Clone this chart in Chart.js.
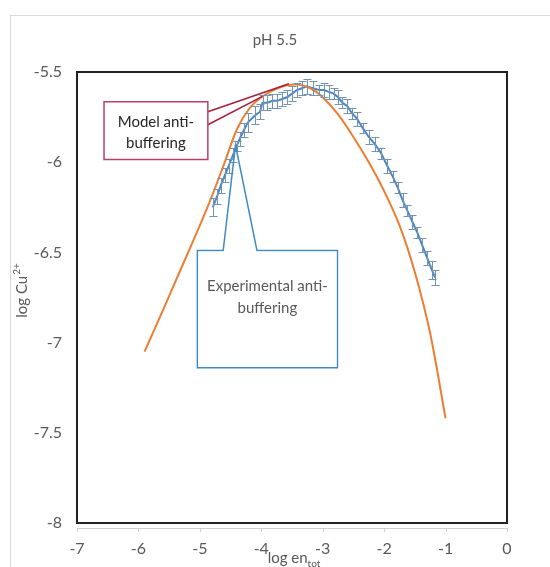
<!DOCTYPE html>
<html>
<head>
<meta charset="utf-8">
<script src="https://cdn.jsdelivr.net/npm/chart.js@4.4.1/dist/chart.umd.min.js"></script>
<style>
  body { margin: 0; background: #fff; }
  #frame { position: absolute; left: 10px; top: 15px; width: 560px; height: 570px; border: 1px solid #d9d9d9; }
  canvas { position: absolute; left: 0; top: 0; }
</style>
</head>
<body>
<div id="frame"></div>
<canvas id="cuChart" width="550" height="567"></canvas>
<script>
// model curve (orange)
const modelX = [-5.9, -5.6, -5.3, -5.0, -4.8, -4.6, -4.4, -4.2, -4.0, -3.8, -3.6, -3.4, -3.2, -3.0, -2.75, -2.5, -2.25, -2.0, -1.75, -1.5, -1.25, -1.0];
const modelY = [-7.05, -6.82, -6.585, -6.35, -6.185, -6.005, -5.82, -5.705, -5.64, -5.60, -5.575, -5.57, -5.59, -5.64, -5.735, -5.86, -6.0, -6.16, -6.35, -6.61, -6.95, -7.42];

// experimental data (blue) with error bars
const expX = [-4.79, -4.72, -4.66, -4.59, -4.53, -4.46, -4.40, -4.35, -4.28, -4.22, -4.10, -4.02, -3.98, -3.90, -3.82, -3.74, -3.66, -3.58, -3.50, -3.42, -3.34, -3.26, -3.16, -3.06, -2.98, -2.90, -2.82, -2.75, -2.68, -2.60, -2.52, -2.44, -2.35, -2.25, -2.15, -2.05, -1.95, -1.86, -1.78, -1.70, -1.62, -1.54, -1.46, -1.38, -1.30, -1.22, -1.17];
const expY = [-6.25, -6.19, -6.13, -6.07, -6.02, -5.96, -5.91, -5.87, -5.82, -5.78, -5.74, -5.72, -5.67, -5.67, -5.66, -5.66, -5.65, -5.64, -5.62, -5.60, -5.59, -5.58, -5.59, -5.60, -5.60, -5.61, -5.62, -5.64, -5.67, -5.69, -5.73, -5.76, -5.81, -5.86, -5.90, -5.95, -6.02, -6.08, -6.14, -6.21, -6.27, -6.33, -6.39, -6.46, -6.53, -6.60, -6.64];
const expErr = [0.05, 0.04, 0.04, 0.04, 0.04, 0.04, 0.03, 0.04, 0.04, 0.05, 0.05, 0.04, 0.04, 0.04, 0.04, 0.04, 0.04, 0.04, 0.04, 0.04, 0.04, 0.04, 0.04, 0.03, 0.04, 0.04, 0.03, 0.04, 0.03, 0.04, 0.03, 0.04, 0.03, 0.04, 0.04, 0.03, 0.04, 0.03, 0.03, 0.04, 0.03, 0.04, 0.03, 0.04, 0.04, 0.05, 0.04];

const xRange = [-7, 0];
const yRange = [-8, -5.5];

const FONT = 'Lato, "Open Sans", sans-serif';
const TEXT = '#595959';

const toPts = (xs, ys) => xs.map((x, i) => ({ x: x, y: ys[i] }));

// error bars for the experimental series
const errorBars = {
    id: 'errorBars',
    afterDatasetsDraw(chart) {
        const { ctx, scales: { x, y } } = chart;
        ctx.save();
        ctx.strokeStyle = '#7393b3';
        ctx.lineWidth = 1;
        expX.forEach((v, i) => {
            const px = Math.round(x.getPixelForValue(v)) + 0.5;
            const top = Math.round(y.getPixelForValue(expY[i] + expErr[i])) + 0.5;
            const bot = Math.round(y.getPixelForValue(expY[i] - expErr[i])) + 0.5;
            ctx.beginPath();
            ctx.moveTo(px, top); ctx.lineTo(px, bot);
            ctx.moveTo(px - 4, top); ctx.lineTo(px + 4, top);
            ctx.moveTo(px - 4, bot); ctx.lineTo(px + 4, bot);
            ctx.stroke();
        });
        ctx.restore();
    }
};

// plot border, titles and callouts
const decor = {
    id: 'decor',
    afterDraw(chart) {
        const { ctx, chartArea: a, scales: { x, y } } = chart;
        ctx.save();

        // light axis line with ticks under the plot
        ctx.strokeStyle = '#d0d0d0';
        ctx.lineWidth = 1;
        ctx.beginPath();
        ctx.moveTo(a.left, a.bottom + 5.5); ctx.lineTo(a.right, a.bottom + 5.5);
        for (let v = xRange[0]; v <= xRange[1]; v++) {
            const px = Math.round(x.getPixelForValue(v)) + 0.5;
            ctx.moveTo(px, a.bottom + 5); ctx.lineTo(px, a.bottom + 9);
        }
        ctx.stroke();

        // black plot frame
        ctx.strokeStyle = '#222';
        ctx.lineWidth = 2;
        ctx.strokeRect(a.left, a.top, a.right - a.left, a.bottom - a.top);

        // title
        ctx.fillStyle = TEXT;
        ctx.textAlign = 'center';
        ctx.textBaseline = 'middle';
        ctx.font = '15px ' + FONT;
        ctx.fillText('pH 5.5', 275, 40);

        // x title with subscript
        ctx.textAlign = 'left';
        ctx.textBaseline = 'alphabetic';
        const main = 'log en';
        ctx.font = '10px ' + FONT;
        const subW = ctx.measureText('tot').width;
        ctx.font = '15px ' + FONT;
        const mainW = ctx.measureText(main).width;
        const sx = (a.left + a.right) / 2 - (mainW + subW) / 2 + 2;
        ctx.fillText(main, sx, 563);
        ctx.font = '10px ' + FONT;
        ctx.fillText('tot', sx + mainW, 567);

        // y title with superscript
        ctx.translate(22, 291);
        ctx.rotate(-Math.PI / 2);
        ctx.font = '15px ' + FONT;
        const ym = 'log Cu';
        const ymW = ctx.measureText(ym).width;
        ctx.font = '10px ' + FONT;
        const ysW = ctx.measureText('2+').width;
        const yx = -(ymW + ysW) / 2;
        ctx.font = '15px ' + FONT;
        ctx.textBaseline = 'middle';
        ctx.fillText(ym, yx, 0);
        ctx.font = '10px ' + FONT;
        ctx.fillText('2+', yx + ymW + 1, -5);
        ctx.setTransform(1, 0, 0, 1, 0, 0);

        // model callout
        const mL = x.getPixelForValue(-6.56), mR = x.getPixelForValue(-4.87);
        const mT = y.getPixelForValue(-5.665), mB = y.getPixelForValue(-5.985);
        ctx.strokeStyle = '#a4203f';
        ctx.lineWidth = 1.5;
        ctx.beginPath();
        ctx.moveTo(mR, mT + 10); ctx.lineTo(x.getPixelForValue(-3.55), y.getPixelForValue(-5.565));
        ctx.moveTo(mR, mT + 23); ctx.lineTo(x.getPixelForValue(-3.98), y.getPixelForValue(-5.635));
        ctx.stroke();
        ctx.fillStyle = '#fff';
        ctx.fillRect(mL, mT, mR - mL, mB - mT);
        ctx.strokeStyle = '#b8406a';
        ctx.strokeRect(mL, mT, mR - mL, mB - mT);
        ctx.fillStyle = '#262626';
        ctx.textAlign = 'center';
        ctx.font = '15px ' + FONT;
        ctx.fillText('Model anti-', (mL + mR) / 2, mT + 20);
        ctx.fillText('buffering', (mL + mR) / 2, mT + 41);

        // experimental callout
        const eL = x.getPixelForValue(-5.04), eR = x.getPixelForValue(-2.76);
        const eT = y.getPixelForValue(-6.49), eB = y.getPixelForValue(-7.14);
        const w1 = x.getPixelForValue(-4.62), w2 = x.getPixelForValue(-4.07);
        const apx = x.getPixelForValue(-4.42), apy = y.getPixelForValue(-5.905);
        ctx.fillStyle = '#fff';
        ctx.strokeStyle = '#3f8ac3';
        ctx.lineWidth = 1.5;
        ctx.beginPath();
        ctx.moveTo(eL, eT);
        ctx.lineTo(w1, eT);
        ctx.lineTo(apx, apy);
        ctx.lineTo(w2, eT);
        ctx.lineTo(eR, eT);
        ctx.lineTo(eR, eB);
        ctx.lineTo(eL, eB);
        ctx.closePath();
        ctx.stroke();
        ctx.fillRect(eL + 1, eT + 1, eR - eL - 2, eB - eT - 2);
        ctx.fillStyle = TEXT;
        ctx.font = '15px ' + FONT;
        ctx.fillText('Experimental anti-', (eL + eR) / 2, eT + 36);
        ctx.fillText('buffering', (eL + eR) / 2, eT + 58);

        ctx.restore();
    }
};

document.addEventListener('DOMContentLoaded', () => {
    const cuCtx = document.getElementById('cuChart').getContext('2d');
    new Chart(cuCtx, {
        type: 'scatter',
        data: {
            datasets: [{
                label: 'Model',
                data: toPts(modelX, modelY),
                showLine: true,
                borderColor: '#ed7d31',
                borderWidth: 2,
                pointRadius: 0,
                tension: 0.3
            }, {
                label: 'Experimental',
                data: toPts(expX, expY),
                showLine: true,
                borderColor: '#4a86c3',
                borderWidth: 2,
                pointRadius: 0,
                tension: 0
            }]
        },
        options: {
            responsive: false,
            animation: false,
            layout: { padding: { top: 72, right: 43, left: 0, bottom: 0 } },
            plugins: {
                legend: { display: false },
                tooltip: { enabled: false }
            },
            scales: {
                x: {
                    type: 'linear',
                    min: xRange[0], max: xRange[1],
                    grid: { display: false },
                    border: { display: false },
                    ticks: { stepSize: 1, padding: 8, color: TEXT, font: { family: FONT, size: 16 } },
                    afterFit: s => { s.height = 44; }
                },
                y: {
                    min: yRange[0], max: yRange[1],
                    grid: { display: false },
                    border: { display: false },
                    ticks: {
                        stepSize: 0.5, padding: 7, color: TEXT, font: { family: FONT, size: 16 },
                        callback: v => String(v)
                    },
                    afterFit: s => { s.width = 77; }
                }
            }
        },
        plugins: [errorBars, decor]
    });
});
</script>
</body>
</html>
